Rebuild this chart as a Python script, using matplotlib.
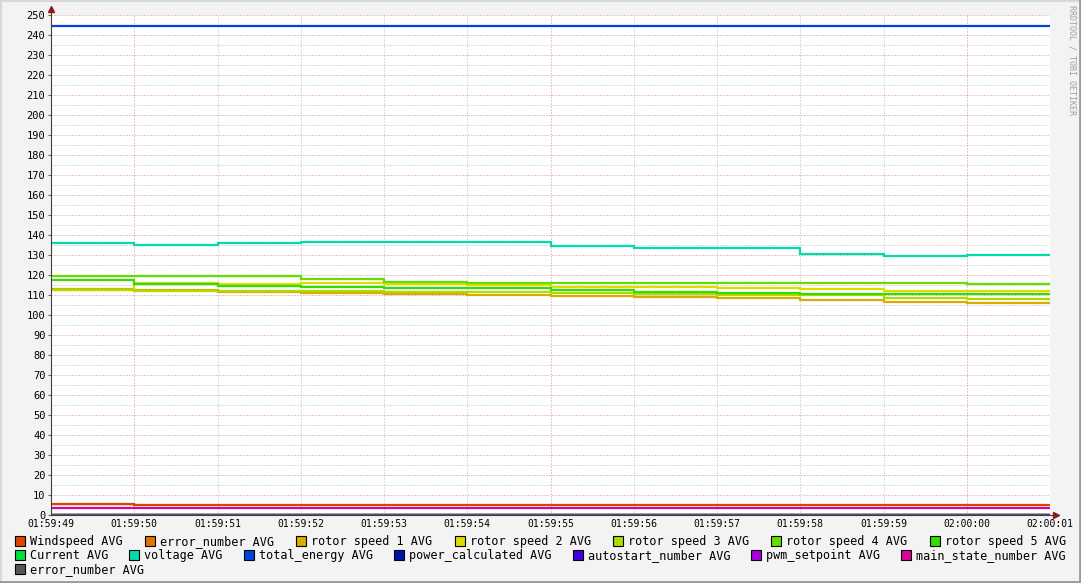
import numpy as np
import matplotlib
matplotlib.use("Agg")
import matplotlib.pyplot as plt
from matplotlib.patches import Rectangle
from matplotlib.lines import Line2D

# --- data (one value per 1 s step, 01:59:49 .. 02:00:01) ---
time_labels = ["01:59:49", "01:59:50", "01:59:51", "01:59:52", "01:59:53",
               "01:59:54", "01:59:55", "01:59:56", "01:59:57", "01:59:58",
               "01:59:59", "02:00:00", "02:00:01"]

windspeed = [5.6, 5.1, 5.1, 5.1, 5.1, 5.1, 5.1, 5.1, 5.1, 5.1, 5.1, 5.1]
error_number = [0] * 12
rotor_speed_1 = [112.9, 112.4, 111.3, 111.0, 110.5, 110.2, 109.6, 109.0, 108.7, 107.7, 106.7, 106.1]
rotor_speed_2 = [112.6, 116.2, 115.7, 116.2, 115.3, 115.0, 114.0, 114.0, 113.7, 113.0, 112.0, 112.0]
rotor_speed_3 = [112.4, 112.2, 112.0, 111.8, 111.7, 111.6, 111.0, 110.7, 110.2, 110.0, 108.7, 108.2]
rotor_speed_4 = [119.5, 119.5, 119.5, 118.2, 116.5, 116.2, 116.0, 116.0, 116.0, 116.0, 116.0, 115.6]
rotor_speed_5 = [117.3, 115.3, 114.6, 114.1, 113.5, 113.5, 112.7, 111.5, 110.8, 110.5, 110.5, 110.5]
current = [0] * 12
voltage = [135.8, 135.2, 136.0, 136.7, 136.7, 136.7, 134.3, 133.3, 133.3, 130.7, 129.3, 129.8]
total_energy = [244.3] * 12
power_calculated = [0] * 12
autostart_number = [0] * 12
pwm_setpoint = [0] * 12
main_state_number = [3.5] * 12
error_number_2 = [0] * 12

series = [
    ("Windspeed AVG", windspeed, "#DD4400"),
    ("error_number AVG", error_number, "#DD7700"),
    ("rotor speed 1 AVG", rotor_speed_1, "#DDAA00"),
    ("rotor speed 2 AVG", rotor_speed_2, "#DDDD00"),
    ("rotor speed 3 AVG", rotor_speed_3, "#AADD00"),
    ("rotor speed 4 AVG", rotor_speed_4, "#66DD00"),
    ("rotor speed 5 AVG", rotor_speed_5, "#33DD00"),
    ("Current AVG", current, "#00DD44"),
    ("voltage AVG", voltage, "#00DDAA"),
    ("total_energy AVG", total_energy, "#0044DD"),
    ("power_calculated AVG", power_calculated, "#0011AA"),
    ("autostart_number AVG", autostart_number, "#4400DD"),
    ("pwm_setpoint AVG", pwm_setpoint, "#AA00DD"),
    ("main_state_number AVG", main_state_number, "#DD0099"),
    ("error_number AVG", error_number_2, "#555555"),
]
legend_rows = [7, 7, 1]

W, H = 1081, 583
fig = plt.figure(figsize=(W / 100, H / 100), dpi=100, facecolor="#F3F3F3")
ax = fig.add_axes([51 / W, 1 - 515 / H, 999 / W, 500 / H])
ax.set_facecolor("white")

mono = "DejaVu Sans Mono"
edges = np.arange(len(time_labels))

# dotted grid, red-ish for major lines
for v in range(5, 251, 5):
    major = v % 10 == 0
    ax.axhline(v, color="#D88A8A" if major else "#BBBBBB", lw=0.72,
               ls=(0, (1, 2)), zorder=0.5)
for s in edges[1:]:
    major = s % 5 == 1
    ax.axvline(s, color="#D88A8A" if major else "#BBBBBB", lw=0.72,
               ls=(0, (1, 2)), zorder=0.5)

for label, vals, col in series:
    ax.stairs(vals, edges, baseline=None, color=col, lw=1.6, zorder=2)

ax.set_xlim(0, len(time_labels) - 1)
ax.set_ylim(0, 250)
ax.set_xticks(edges)
ax.set_xticklabels(time_labels, fontfamily=mono, fontsize=7)
ax.set_yticks(range(0, 251, 10))
ax.set_yticklabels([str(v) for v in range(0, 251, 10)], fontfamily=mono, fontsize=7.5)
ax.tick_params(axis="both", length=2, width=0.8, color="#606060", pad=2)
ax.tick_params(axis="x", length=0, pad=3)
for sp in ax.spines.values():
    sp.set_visible(False)

# axes with arrows
ax.add_line(Line2D([0, 0], [0, 1.012], transform=ax.transAxes, color="#404040",
                   lw=0.8, clip_on=False, zorder=3))
ax.add_line(Line2D([0, 1.006], [0, 0], transform=ax.transAxes, color="#404040",
                   lw=0.8, clip_on=False, zorder=3))
ax.plot([0], [1.012], marker="^", ms=4, color="#8B1A1A", transform=ax.transAxes,
        clip_on=False, zorder=4)
ax.plot([1.006], [0], marker=">", ms=4, color="#8B1A1A", transform=ax.transAxes,
        clip_on=False, zorder=4)

# legend, justified rows like rrdtool
fig.canvas.draw()
renderer = fig.canvas.get_renderer()
left_px, right_px = 15, 1066
row_y = [541, 555, 569]
idx = 0
for r, n in enumerate(legend_rows):
    items = series[idx:idx + n]
    idx += n
    texts = []
    widths = []
    for label, vals, col in items:
        t = fig.text(0, 0, label, fontfamily=mono, fontsize=8.5, va="baseline", ha="left")
        bb = t.get_window_extent(renderer)
        widths.append(15 + bb.width)
        texts.append(t)
    if n > 1 and r < len(legend_rows) - 1:
        gap = (right_px - left_px - sum(widths)) / (n - 1)
    else:
        gap = 24
    x = left_px
    y = row_y[r]
    for (label, vals, col), t, w in zip(items, texts, widths):
        fig.patches.append(Rectangle((x / W, 1 - (y + 5) / H), 10 / W, 10 / H,
                                     transform=fig.transFigure, facecolor=col,
                                     edgecolor="black", lw=0.8))
        t.set_position(((x + 15) / W, 1 - (y + 4) / H))
        x += w + gap

fig.text(1072 / W, 1 - 5 / H, "RRDTOOL / TOBI OETIKER", rotation=270,
         fontfamily=mono, fontsize=6, color="#A0A0A0", ha="center", va="top")

# frame
fig.add_artist(Line2D([0.5 / W, 0.5 / W], [0, 1], color="#D8D8D8", lw=1.5))
fig.add_artist(Line2D([0, 1], [1 - 0.5 / H, 1 - 0.5 / H], color="#D8D8D8", lw=1.5))
fig.add_artist(Line2D([1 - 1.5 / W, 1 - 1.5 / W], [0, 1], color="#9A9A9A", lw=2))
fig.add_artist(Line2D([0, 1], [1.5 / H, 1.5 / H], color="#9A9A9A", lw=2))

fig.savefig("out.png", dpi=100, facecolor=fig.get_facecolor())
